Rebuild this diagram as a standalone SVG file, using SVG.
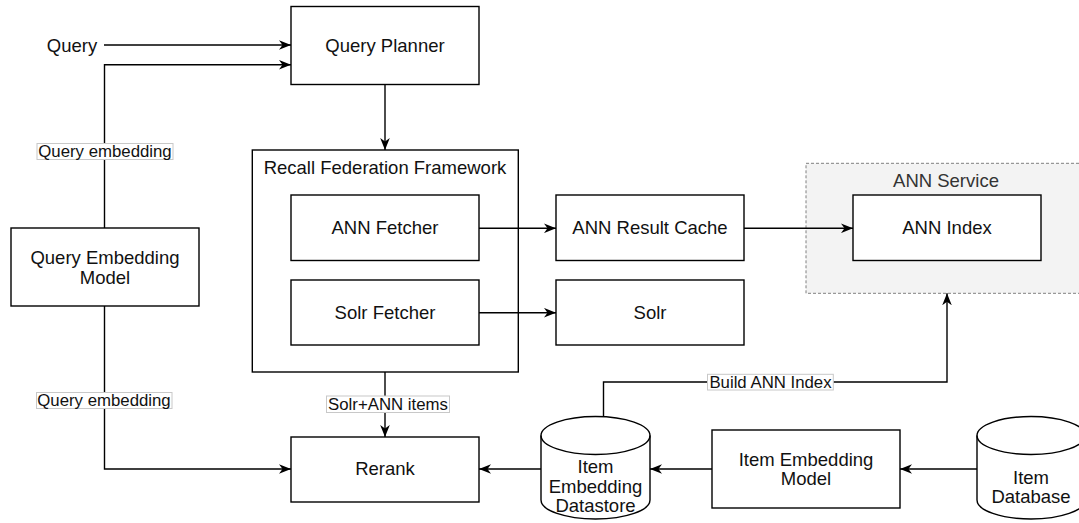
<svg xmlns="http://www.w3.org/2000/svg" width="1079" height="523" viewBox="0 0 1079 523">
<style>
.box{fill:#fff;stroke:#000;stroke-width:1.4}
.t{font-family:"Liberation Sans",Arial,sans-serif;font-size:18.5px;fill:#111;text-anchor:middle}
.lbl{font-family:"Liberation Sans",Arial,sans-serif;font-size:16.8px;fill:#111;text-anchor:middle}
.lb{fill:#fff;stroke:#c8c8c8;stroke-width:1}
.e{fill:none;stroke:#000;stroke-width:1.4}
</style>
<defs>
<marker id="ar" viewBox="0 0 12 10" refX="12" refY="5" markerWidth="12" markerHeight="10" markerUnits="userSpaceOnUse" orient="auto">
<path d="M0,0.2 L12,5 L0,9.8 L3.5,5 Z" fill="#000"/>
</marker>
</defs>
<rect width="1079" height="523" fill="#fff"/>
<g id="ann-service">
<rect x="806" y="163.3" width="285" height="130" fill="#f3f3f3" stroke="#808080" stroke-width="1" stroke-dasharray="3 2"/>
<text class="t" x="946" y="186.5" style="fill:#333">ANN Service</text>
</g>
<g id="query-label"><text class="t" x="72" y="51.5">Query</text></g>
<g id="query-planner"><rect class="box" x="291" y="6.5" width="188" height="78"/><text class="t" x="385" y="51.5">Query Planner</text></g>
<g id="recall-federation"><rect class="box" x="252.3" y="150" width="266" height="222"/><text class="t" x="385" y="174">Recall Federation Framework</text></g>
<g id="ann-fetcher"><rect class="box" x="291" y="195" width="188" height="65.5"/><text class="t" x="385" y="233.5">ANN Fetcher</text></g>
<g id="solr-fetcher"><rect class="box" x="291" y="280" width="188" height="65"/><text class="t" x="385" y="318.5">Solr Fetcher</text></g>
<g id="query-embedding-model"><rect class="box" x="11" y="228" width="188" height="78"/><text class="t" x="105" y="264">Query Embedding</text><text class="t" x="105" y="283.5">Model</text></g>
<g id="rerank"><rect class="box" x="291" y="437" width="188" height="65"/><text class="t" x="385" y="475">Rerank</text></g>
<g id="ann-result-cache"><rect class="box" x="556" y="195" width="188" height="65.5"/><text class="t" x="650" y="234">ANN Result Cache</text></g>
<g id="solr"><rect class="box" x="556" y="280" width="188" height="65"/><text class="t" x="650" y="318.5">Solr</text></g>
<g id="ann-index"><rect class="box" x="853" y="195" width="188" height="65.5"/><text class="t" x="947" y="234">ANN Index</text></g>
<g id="item-embedding-model"><rect class="box" x="712" y="430" width="188" height="78"/><text class="t" x="806" y="466">Item Embedding</text><text class="t" x="806" y="485">Model</text></g>
<g id="item-embedding-datastore">
<path class="box" d="M541,435.5 A54.5,19 0 0 1 650,435.5 L650,500 A54.5,19 0 0 1 541,500 Z"/>
<path class="e" d="M541,435.5 A54.5,19 0 0 0 650,435.5"/>
<text class="t" x="595.5" y="473">Item</text><text class="t" x="595.5" y="492.5">Embedding</text><text class="t" x="595.5" y="512">Datastore</text>
</g>
<g id="item-database">
<path class="box" d="M977,435.5 A54,19 0 0 1 1085,435.5 L1085,500 A54,19 0 0 1 977,500 Z"/>
<path class="e" d="M977,435.5 A54,19 0 0 0 1085,435.5"/>
<text class="t" x="1031" y="483.5">Item</text><text class="t" x="1031" y="503">Database</text>
</g>
<g id="connectors">
<path class="e" d="M104,45 L291,45" marker-end="url(#ar)"/>
<path class="e" d="M104.5,228 L104.5,64.8 L291,64.8" marker-end="url(#ar)"/>
<path class="e" d="M385,84.5 L385,150" marker-end="url(#ar)"/>
<path class="e" d="M104.5,306 L104.5,469 L291,469" marker-end="url(#ar)"/>
<path class="e" d="M385,372 L385,437" marker-end="url(#ar)"/>
<path class="e" d="M479,228.3 L556,228.3" marker-end="url(#ar)"/>
<path class="e" d="M479,312.7 L556,312.7" marker-end="url(#ar)"/>
<path class="e" d="M744,228.3 L853,228.3" marker-end="url(#ar)"/>
<path class="e" d="M603.5,417 L603.5,382 L947,382 L947,293.3" marker-end="url(#ar)"/>
<path class="e" d="M977,469 L900,469" marker-end="url(#ar)"/>
<path class="e" d="M712,469 L650,469" marker-end="url(#ar)"/>
<path class="e" d="M541,469 L479,469" marker-end="url(#ar)"/>
<rect class="lb" x="37" y="143.5" width="136" height="16"/><text class="lbl" x="105" y="157">Query embedding</text>
<rect class="lb" x="36.5" y="392.5" width="135.5" height="16"/><text class="lbl" x="104" y="406">Query embedding</text>
<rect class="lb" x="326.5" y="396" width="123" height="16.5"/><text class="lbl" x="388" y="410">Solr+ANN items</text>
<rect class="lb" x="707.5" y="374.3" width="125.8" height="15.7"/><text class="lbl" x="770.5" y="388">Build ANN Index</text>
</g>
</svg>
